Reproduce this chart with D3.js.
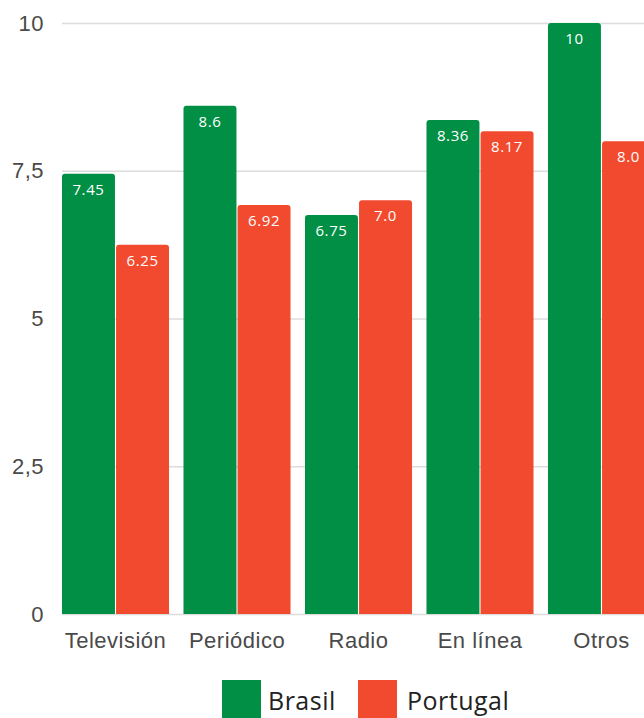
<!DOCTYPE html>
<html>
<head>
<meta charset="utf-8">
<script src="https://cdn.jsdelivr.net/npm/d3@7"></script>
<style>
  html, body { margin: 0; padding: 0; background: #fff; }
  svg { display: block; font-family: "Open Sans", sans-serif; }
</style>
</head>
<body>
<svg id="chart" width="644" height="718"></svg>
<script>
// Media categories and scores per country
const categories = ["Televisión", "Periódico", "Radio", "En línea", "Otros"];
const seriesNames = ["Brasil", "Portugal"];
const brasil = [7.45, 8.6, 6.75, 8.36, 10];
const portugal = [6.25, 6.92, 7.0, 8.17, 8.0];
const brasilLabels = ["7.45", "8.6", "6.75", "8.36", "10"];
const portugalLabels = ["6.25", "6.92", "7.0", "8.17", "8.0"];
const yTicks = [0, 2.5, 5, 7.5, 10];
const yTickLabels = ["0", "2,5", "5", "7,5", "10"];
const colors = ["#008f45", "#f24a2f"];

const rows = categories.map((c, i) => ({
  category: c,
  values: [
    { series: seriesNames[0], value: brasil[i], label: brasilLabels[i] },
    { series: seriesNames[1], value: portugal[i], label: portugalLabels[i] }
  ]
}));

const svg = d3.select("#chart");
const plotLeft = 62, plotRight = 644, plotTop = 23, plotBottom = 614;

const x0 = d3.scaleBand()
  .domain(categories)
  .range([54.7, 662.3])
  .paddingInner(0.119)
  .paddingOuter(0.06);

const x1 = d3.scaleBand()
  .domain(seriesNames)
  .range([0, x0.bandwidth()])
  .paddingInner(0.02);

const y = d3.scaleLinear().domain([0, 10]).range([plotBottom, plotTop]);
const color = d3.scaleOrdinal().domain(seriesNames).range(colors);

// Value axis labels
const yAxis = d3.axisLeft(y)
  .tickValues(yTicks)
  .tickFormat((d, i) => yTickLabels[i])
  .tickSize(0)
  .tickPadding(18);

const yG = svg.append("g")
  .attr("transform", `translate(${plotLeft},0)`)
  .call(yAxis);
yG.select(".domain").remove();
yG.selectAll("text")
  .attr("fill", "#4a4a4a")
  .style("font-size", "22px")
  .style("letter-spacing", "0.5px");

// Horizontal gridlines
svg.append("g")
  .selectAll("line")
  .data(yTicks)
  .join("line")
  .attr("x1", plotLeft)
  .attr("x2", plotRight)
  .attr("y1", d => y(d) + 0.5)
  .attr("y2", d => y(d) + 0.5)
  .attr("stroke", "#dcdcdc")
  .attr("stroke-width", 1.5);

// Bars with rounded top corners
function topRoundedRect(x, yTop, w, h, r) {
  return `M${x},${yTop + h}V${yTop + r}Q${x},${yTop} ${x + r},${yTop}` +
         `H${x + w - r}Q${x + w},${yTop} ${x + w},${yTop + r}V${yTop + h}Z`;
}

const groups = svg.append("g")
  .selectAll("g")
  .data(rows)
  .join("g")
  .attr("transform", d => `translate(${x0(d.category)},0)`);

groups.selectAll("path")
  .data(d => d.values)
  .join("path")
  .attr("d", d => topRoundedRect(x1(d.series), y(d.value), x1.bandwidth(), y(0) - y(d.value), 3))
  .attr("fill", d => color(d.series));

groups.selectAll("text")
  .data(d => d.values)
  .join("text")
  .attr("x", d => x1(d.series) + x1.bandwidth() / 2)
  .attr("y", d => y(d.value) + 21)
  .attr("text-anchor", "middle")
  .attr("fill", "#fff")
  .style("font-size", "15px")
  .style("letter-spacing", "0.6px")
  .text(d => d.label);

// Category axis
const xAxis = d3.axisBottom(x0).tickSize(0).tickPadding(18);
const xG = svg.append("g")
  .attr("transform", `translate(0,${plotBottom})`)
  .call(xAxis);
xG.select(".domain").remove();
xG.selectAll("text")
  .attr("fill", "#4a4a4a")
  .style("font-size", "22px")
  .style("letter-spacing", "0.5px");

// Legend
const legendItems = [
  { name: seriesNames[0], x: 222, tx: 268 },
  { name: seriesNames[1], x: 358, tx: 407 }
];
const legend = svg.append("g");
legend.selectAll("rect")
  .data(legendItems)
  .join("rect")
  .attr("x", d => d.x)
  .attr("y", 680)
  .attr("width", 39)
  .attr("height", 40)
  .attr("fill", d => color(d.name));
legend.selectAll("text")
  .data(legendItems)
  .join("text")
  .attr("x", d => d.tx)
  .attr("y", 710)
  .attr("fill", "#222")
  .style("font-size", "25px")
  .style("letter-spacing", "0.5px")
  .text(d => d.name);
</script>
</body>
</html>
